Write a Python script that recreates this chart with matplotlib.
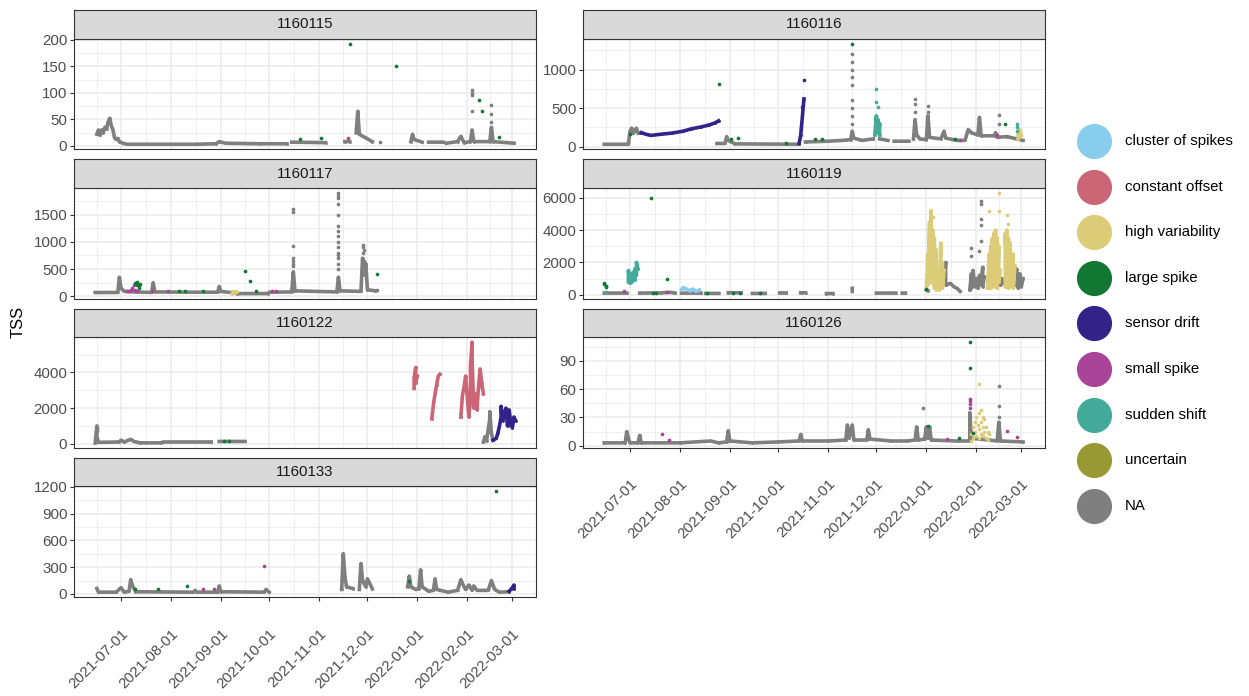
import numpy as np
import pandas as pd
import matplotlib
matplotlib.use("Agg")
import matplotlib.pyplot as plt

plt.rcParams['font.family'] = ['Liberation Sans', 'DejaVu Sans']

# ---- data ----
flag_labels = ["cluster of spikes", "constant offset", "high variability", "large spike",
               "sensor drift", "small spike", "sudden shift", "uncertain", "NA"]
flag_colors = ["#88CCEE", "#CC6677", "#DDCC77", "#117733", "#332288", "#AA4499",
               "#44AA99", "#999933", "#7F7F7F"]

station_ids = ["1160115", "1160116", "1160117", "1160119", "1160122", "1160126", "1160133"]

ytick_115 = [0, 50, 100, 150, 200]
ytick_116 = [0, 500, 1000]
ytick_117 = [0, 500, 1000, 1500]
ytick_119 = [0, 2000, 4000, 6000]
ytick_122 = [0, 2000, 4000]
ytick_126 = [0, 30, 60, 90]
ytick_133 = [0, 300, 600, 900, 1200]

month_ticks = ["2021-07-01", "2021-08-01", "2021-09-01", "2021-10-01", "2021-11-01",
               "2021-12-01", "2022-01-01", "2022-02-01", "2022-03-01"]

# 1160115
s115_na = [("2021-06-16", 22), ("2021-06-17", 30), ("2021-06-18", 20), ("2021-06-19", 30), ("2021-06-20", 25),
           ("2021-06-21", 35), ("2021-06-22", 32), ("2021-06-23", 45), ("2021-06-24", 52), ("2021-06-25", 38),
           ("2021-06-26", 30), ("2021-06-27", 15), ("2021-06-28", 12), ("2021-06-29", 14), ("2021-06-30", 8),
           ("2021-07-02", 5), ("2021-07-05", 3), ("2021-07-25", 3), ("2021-08-15", 3), ("2021-08-29", 4),
           ("2021-08-31", 8), ("2021-09-04", 5), ("2021-09-25", 4), ("2021-10-12", 4), ("2021-10-13", None),
           ("2021-10-15", 7), ("2021-11-05", 6), ("2021-11-06", None),
           ("2021-11-17", 8), ("2021-11-20", 8), ("2021-11-21", None),
           ("2021-11-24", 25), ("2021-11-25", 65), ("2021-11-26", 22), ("2021-11-27", 20), ("2021-11-30", 15),
           ("2021-12-04", 8), ("2021-12-05", None),
           ("2021-12-28", 8), ("2021-12-29", 22), ("2021-12-30", 12), ("2022-01-04", 7), ("2022-01-05", None),
           ("2022-01-08", 7), ("2022-01-17", 7), ("2022-01-18", None),
           ("2022-01-19", 5), ("2022-01-26", 8), ("2022-01-28", 18), ("2022-01-30", 6), ("2022-02-03", 8),
           ("2022-02-04", 30), ("2022-02-05", 8), ("2022-02-15", 8), ("2022-02-16", 35), ("2022-02-17", 8),
           ("2022-03-02", 5)]
s115_na_pts = [("2021-12-09", 7), ("2022-02-04", 65), ("2022-02-04", 95), ("2022-02-04", 100),
               ("2022-02-04", 105), ("2022-02-16", 45), ("2022-02-16", 60), ("2022-02-16", 77)]
s115_large = [("2021-10-20", 13), ("2021-11-02", 15), ("2021-11-20", 193), ("2021-12-19", 150),
              ("2022-02-08", 87), ("2022-02-10", 65), ("2022-02-21", 17)]
s115_small = [("2021-11-19", 14)]

# 1160116
s116_na = [("2021-06-15", 30), ("2021-06-30", 30), ("2021-07-01", 200), ("2021-07-02", 240), ("2021-07-03", 170),
           ("2021-07-05", 240), ("2021-07-06", 170), ("2021-07-08", 180), ("2021-07-09", None),
           ("2021-08-24", 40), ("2021-08-29", 40), ("2021-08-30", 130), ("2021-08-31", 80), ("2021-09-02", 60),
           ("2021-09-04", 35), ("2021-10-14", 30), ("2021-10-15", None),
           ("2021-10-18", 60), ("2021-11-01", 70), ("2021-11-10", 80), ("2021-11-15", 90), ("2021-11-16", 200),
           ("2021-11-17", 110), ("2021-11-22", 80), ("2021-11-29", 100), ("2021-11-30", None),
           ("2021-12-03", 100), ("2021-12-08", 80), ("2021-12-09", None),
           ("2021-12-12", 70), ("2021-12-21", 70), ("2021-12-22", None),
           ("2021-12-24", 100), ("2021-12-25", 350), ("2021-12-26", 150), ("2021-12-28", 100), ("2022-01-01", 90),
           ("2022-01-02", 400), ("2022-01-03", 120), ("2022-01-10", 100), ("2022-01-12", 200), ("2022-01-13", 110),
           ("2022-01-20", 80), ("2022-01-25", 80), ("2022-01-27", 220), ("2022-01-29", 180), ("2022-02-02", 150),
           ("2022-02-03", 380), ("2022-02-04", 140), ("2022-02-12", 140), ("2022-02-13", 180), ("2022-02-14", 120),
           ("2022-02-20", 130), ("2022-02-24", 110), ("2022-03-02", 80)]
s116_na_pts = [("2021-11-16", 1200), ("2021-11-16", 1100), ("2021-11-16", 1000), ("2021-11-16", 900),
               ("2021-11-16", 800), ("2021-11-16", 600), ("2021-11-16", 500), ("2021-11-16", 400),
               ("2021-11-16", 300), ("2021-12-25", 620), ("2021-12-25", 550), ("2021-12-25", 450),
               ("2022-01-02", 530), ("2022-01-02", 450), ("2022-02-15", 410), ("2022-02-15", 300)]
s116_drift = [("2021-07-08", 180), ("2021-07-11", 160), ("2021-07-14", 145), ("2021-07-20", 160), ("2021-07-27", 175),
              ("2021-08-03", 200), ("2021-08-08", 230), ("2021-08-14", 255), ("2021-08-19", 280), ("2021-08-23", 310),
              ("2021-08-25", 335), ("2021-08-26", None),
              ("2021-10-14", 40), ("2021-10-15", 150), ("2021-10-16", 380), ("2021-10-17", 620)]
s116_drift_pts = [("2021-10-17", 860), ("2021-10-16", 520)]
s116_large = [("2021-07-01", 160), ("2021-08-25", 815), ("2021-09-02", 95), ("2021-09-06", 105), ("2021-10-06", 50),
              ("2021-10-24", 95), ("2021-10-28", 95), ("2021-11-16", 1340), ("2022-01-19", 100), ("2022-02-19", 290)]
s116_small = [("2022-01-22", 90), ("2022-02-14", 150)]
s116_shift = [("2021-11-30", 150), ("2021-12-01", 400), ("2021-12-01", 200), ("2021-12-02", 350),
              ("2021-12-02", 180), ("2021-12-03", 300), ("2021-12-03", 150)]
s116_shift_pts = [("2021-12-01", 750), ("2021-12-01", 580), ("2021-12-02", 520),
                  ("2022-02-26", 300), ("2022-02-26", 250), ("2022-02-26", 200)]
s116_hv = [("2022-02-27", 100), ("2022-02-27", 200), ("2022-02-28", 130), ("2022-02-28", 220), ("2022-03-01", 150)]

# 1160117
s117_na = [("2021-06-15", 70), ("2021-06-29", 70), ("2021-06-30", 350), ("2021-07-01", 150), ("2021-07-03", 90),
           ("2021-07-10", 80), ("2021-07-20", 70), ("2021-07-21", 250), ("2021-07-22", 80), ("2021-08-15", 75),
           ("2021-08-30", 75), ("2021-08-31", 180), ("2021-09-01", 90), ("2021-09-07", 70), ("2021-09-11", 50),
           ("2021-09-30", 50), ("2021-10-01", 75), ("2021-10-15", 80), ("2021-10-16", 450), ("2021-10-17", 100),
           ("2021-11-12", 80), ("2021-11-13", 350), ("2021-11-14", 100), ("2021-11-27", 90), ("2021-11-28", 700),
           ("2021-11-29", 400), ("2021-11-30", 600), ("2021-12-01", 120), ("2021-12-06", 100)]
s117_na_pts = [("2021-10-16", 1600), ("2021-10-16", 1550), ("2021-10-16", 930), ("2021-10-16", 700),
               ("2021-10-16", 650), ("2021-10-16", 600), ("2021-10-16", 550),
               ("2021-11-13", 1900), ("2021-11-13", 1850), ("2021-11-13", 1800), ("2021-11-13", 1700),
               ("2021-11-13", 1500), ("2021-11-13", 1300), ("2021-11-13", 1200), ("2021-11-13", 1100),
               ("2021-11-13", 1000), ("2021-11-13", 900), ("2021-11-13", 800), ("2021-11-13", 750),
               ("2021-11-13", 700), ("2021-11-13", 600), ("2021-11-13", 500),
               ("2021-11-28", 950), ("2021-11-28", 900), ("2021-11-28", 800), ("2021-11-29", 850),
               ("2021-11-29", 650), ("2021-11-29", 550), ("2021-12-07", 120)]
s117_small = [("2021-07-05", 90), ("2021-07-06", 100), ("2021-07-07", 120), ("2021-07-08", 150), ("2021-07-09", 200),
              ("2021-07-10", 110), ("2021-07-11", 90), ("2021-07-20", 100), ("2021-07-30", 100),
              ("2021-10-03", 100), ("2021-10-05", 100)]
s117_large = [("2021-07-10", 250), ("2021-07-11", 270), ("2021-07-11", 200), ("2021-07-12", 180), ("2021-07-12", 150),
              ("2021-07-13", 230), ("2021-08-06", 100), ("2021-08-10", 100), ("2021-08-21", 100),
              ("2021-09-16", 460), ("2021-09-19", 285), ("2021-09-23", 100), ("2021-12-07", 410)]
s117_hv = [("2021-09-08", 50), ("2021-09-09", 90), ("2021-09-10", 60), ("2021-09-11", 80)]

# 1160119
s119_na = [("2021-06-15", 100), ("2021-06-29", 100), ("2021-06-30", None),
           ("2021-07-07", 100), ("2021-07-20", 110), ("2021-07-26", 150), ("2021-07-29", 100), ("2021-07-30", None),
           ("2021-08-02", 100), ("2021-08-14", 100), ("2021-08-15", None),
           ("2021-08-17", 80), ("2021-08-25", 80), ("2021-08-26", None),
           ("2021-08-31", 120), ("2021-09-08", 120), ("2021-09-09", None),
           ("2021-09-15", 80), ("2021-09-23", 80), ("2021-09-24", None),
           ("2021-10-02", 110), ("2021-10-06", 110), ("2021-10-07", None),
           ("2021-10-15", 120), ("2021-10-18", 120), ("2021-10-19", None),
           ("2021-10-31", 70), ("2021-11-04", 70), ("2021-11-05", None),
           ("2021-11-16", 400), ("2021-11-16", 200), ("2021-11-17", None),
           ("2021-12-01", 100), ("2021-12-13", 100), ("2021-12-14", None),
           ("2021-12-17", 100), ("2021-12-19", 100), ("2021-12-20", None),
           ("2022-01-01", 300), ("2022-01-02", 250), ("2022-01-03", None),
           ("2022-01-12", 800), ("2022-01-13", 2000), ("2022-01-13", 600), ("2022-01-16", 700), ("2022-01-18", 500),
           ("2022-01-20", 400), ("2022-01-22", 200), ("2022-01-23", None),
           ("2022-01-28", 300), ("2022-01-29", 1300), ("2022-01-29", 400), ("2022-01-30", 1500), ("2022-01-31", 500),
           ("2022-02-01", 1000), ("2022-02-02", 400), ("2022-02-03", 1200), ("2022-02-04", 600), ("2022-02-05", 1700),
           ("2022-02-05", 500), ("2022-02-06", 1100), ("2022-02-07", None),
           ("2022-02-16", 600), ("2022-02-17", 1000), ("2022-02-18", 700), ("2022-02-19", None),
           ("2022-02-25", 600), ("2022-02-26", 1600), ("2022-02-27", 400), ("2022-02-28", 1300), ("2022-03-01", 500),
           ("2022-03-02", 1000)]
s119_na_pts = [("2022-01-29", 2900), ("2022-01-29", 2400), ("2022-02-04", 5800), ("2022-02-04", 5600),
               ("2022-02-04", 4700), ("2022-02-04", 4300), ("2022-02-04", 3300), ("2022-02-03", 2700)]
s119_shift = [("2021-06-30", 800), ("2021-06-30", 1500), ("2021-07-01", 700), ("2021-07-01", 1300), ("2021-07-02", 800),
              ("2021-07-03", 1100), ("2021-07-03", 1400), ("2021-07-04", 900), ("2021-07-04", 1600),
              ("2021-07-05", 1200), ("2021-07-05", 2000), ("2021-07-06", 1600)]
s119_shift_pts = [("2021-06-16", 150)]
s119_large = [("2021-06-15", 750), ("2021-06-15", 650), ("2021-06-16", 550), ("2021-06-16", 450), ("2021-07-14", 5950),
              ("2021-07-15", 120), ("2021-07-17", 130), ("2021-07-24", 990), ("2021-08-18", 100), ("2021-09-03", 130),
              ("2021-09-07", 130), ("2021-09-20", 100), ("2022-01-01", 330)]
s119_small = [("2021-06-27", 230), ("2021-07-24", 150)]
s119_cluster = [("2021-08-02", 300), ("2021-08-03", 450), ("2021-08-05", 350), ("2021-08-07", 250),
                ("2021-08-09", 350), ("2021-08-11", 200), ("2021-08-13", 300)]
s119_hv = [("2022-01-01", 400), ("2022-01-02", 2500), ("2022-01-02", 600), ("2022-01-03", 4500), ("2022-01-03", 800),
           ("2022-01-04", 5200), ("2022-01-04", 1200), ("2022-01-05", 4000), ("2022-01-05", 700), ("2022-01-06", 3500),
           ("2022-01-06", 400), ("2022-01-07", 2800), ("2022-01-07", 300), ("2022-01-08", 1500), ("2022-01-09", 300),
           ("2022-01-10", 3200), ("2022-01-10", 500), ("2022-01-11", 2000), ("2022-01-11", 400), ("2022-01-12", 1500),
           ("2022-01-12", None),
           ("2022-02-08", 400), ("2022-02-09", 2500), ("2022-02-09", 500), ("2022-02-10", 3000), ("2022-02-10", 400),
           ("2022-02-11", 3500), ("2022-02-11", 600), ("2022-02-12", 3800), ("2022-02-12", 500), ("2022-02-13", 4000),
           ("2022-02-13", 700), ("2022-02-14", 3500), ("2022-02-14", 400), ("2022-02-15", 3000), ("2022-02-15", 800),
           ("2022-02-16", 1500), ("2022-02-16", None),
           ("2022-02-19", 500), ("2022-02-19", 3800), ("2022-02-20", 600), ("2022-02-20", 4000), ("2022-02-21", 400),
           ("2022-02-21", 3500), ("2022-02-22", 500), ("2022-02-22", 3200), ("2022-02-23", 600), ("2022-02-24", 2500),
           ("2022-02-24", 400), ("2022-02-25", 1800)]
s119_hv_pts = [("2022-01-03", 5100), ("2022-01-05", 4800), ("2022-02-09", 5200), ("2022-02-15", 6300),
               ("2022-02-15", 5200), ("2022-02-20", 4900), ("2022-02-21", 4400)]

# 1160122
s122_na = [("2021-06-15", 50), ("2021-06-16", 1000), ("2021-06-16", 400), ("2021-06-17", 80), ("2021-06-30", 100),
           ("2021-07-01", 200), ("2021-07-03", 100), ("2021-07-07", 250), ("2021-07-09", 130), ("2021-07-13", 50),
           ("2021-07-26", 50), ("2021-07-27", 100), ("2021-08-26", 100), ("2021-08-27", None),
           ("2021-08-31", 130), ("2021-09-16", 130), ("2021-09-17", None),
           ("2022-02-11", 100), ("2022-02-12", 400), ("2022-02-13", 150), ("2022-02-14", 800), ("2022-02-15", 1400),
           ("2022-02-15", 1800), ("2022-02-16", 600), ("2022-02-17", 200)]
s122_na_pts = [("2021-06-16", 900), ("2021-06-16", 800), ("2021-06-16", 700)]
s122_large = [("2021-09-03", 180), ("2021-09-06", 180)]
s122_offset = [("2021-12-30", 3100), ("2021-12-30", 3700), ("2021-12-31", 4280), ("2021-12-31", 3400),
               ("2022-01-01", 3800), ("2022-01-02", None),
               ("2022-01-10", 1400), ("2022-01-11", 2200), ("2022-01-12", 2800), ("2022-01-13", 3300),
               ("2022-01-14", 3800), ("2022-01-15", 3900), ("2022-01-16", None),
               ("2022-01-28", 1500), ("2022-01-29", 2700), ("2022-01-30", 3200), ("2022-01-31", 3800),
               ("2022-02-01", 2600), ("2022-02-02", 1500), ("2022-02-03", 2600), ("2022-02-03", 4400),
               ("2022-02-04", 5700), ("2022-02-04", 4800), ("2022-02-05", 2000), ("2022-02-06", 2800),
               ("2022-02-07", 1900), ("2022-02-08", 3200), ("2022-02-09", 4200), ("2022-02-10", 3400),
               ("2022-02-11", 2800)]
s122_drift = [("2022-02-17", 200), ("2022-02-19", 300), ("2022-02-20", 600), ("2022-02-21", 1000), ("2022-02-22", 1500),
              ("2022-02-22", 2100), ("2022-02-23", 1300), ("2022-02-24", 1700), ("2022-02-25", 2000),
              ("2022-02-26", 1000), ("2022-02-27", 1900), ("2022-02-28", 1200), ("2022-03-01", 900),
              ("2022-03-02", 1500), ("2022-03-03", 1300)]

# 1160126
s126_na = [("2021-06-15", 3), ("2021-06-28", 3), ("2021-06-29", 15), ("2021-06-30", 8), ("2021-07-01", 3),
           ("2021-07-06", 3), ("2021-07-07", 11), ("2021-07-08", 3), ("2021-08-01", 3), ("2021-08-20", 5),
           ("2021-08-25", 3), ("2021-08-30", 4), ("2021-08-31", 16), ("2021-09-01", 5), ("2021-09-15", 3),
           ("2021-10-01", 4), ("2021-10-14", 5), ("2021-10-15", 12), ("2021-10-16", 5), ("2021-11-01", 5),
           ("2021-11-12", 6), ("2021-11-13", 22), ("2021-11-14", 8), ("2021-11-16", 22), ("2021-11-17", 6),
           ("2021-11-25", 6), ("2021-11-26", 17), ("2021-11-27", 7), ("2021-12-10", 5), ("2021-12-20", 5),
           ("2021-12-25", 6), ("2021-12-26", 20), ("2021-12-27", 6), ("2021-12-31", 7), ("2022-01-01", 20),
           ("2022-01-02", 8), ("2022-01-03", 20), ("2022-01-04", 6), ("2022-01-20", 5), ("2022-01-28", 5),
           ("2022-01-28", 35), ("2022-01-29", 8), ("2022-02-14", 5), ("2022-02-15", 25), ("2022-02-16", 5),
           ("2022-03-02", 4)]
s126_na_pts = [("2021-12-30", 40), ("2022-02-15", 63), ("2022-02-15", 42), ("2022-02-15", 30), ("2022-01-28", 30)]
s126_small = [("2021-07-21", 12.6), ("2021-07-25", 6), ("2022-01-14", 7), ("2022-01-28", 50), ("2022-01-28", 47),
              ("2022-01-28", 44), ("2022-01-28", 40), ("2022-02-20", 16), ("2022-02-26", 9)]
s126_large = [("2022-01-02", 20.6), ("2022-01-21", 8), ("2022-01-28", 110), ("2022-01-28", 83), ("2022-01-30", 14)]
s126_hv = [("2022-01-29", 5), ("2022-01-29", 12), ("2022-01-30", 20), ("2022-01-30", 8), ("2022-01-31", 25),
           ("2022-01-31", 15), ("2022-02-01", 30), ("2022-02-01", 10), ("2022-02-02", 22), ("2022-02-03", 66),
           ("2022-02-03", 35), ("2022-02-03", 18), ("2022-02-03", 8), ("2022-02-04", 38), ("2022-02-04", 25),
           ("2022-02-04", 12), ("2022-02-05", 30), ("2022-02-05", 20), ("2022-02-05", 10), ("2022-02-06", 28),
           ("2022-02-06", 15), ("2022-02-07", 20), ("2022-02-07", 8), ("2022-02-08", 15), ("2022-02-08", 6),
           ("2022-02-09", 12)]

# 1160133
s133_na = [("2021-06-16", 60), ("2021-06-17", 20), ("2021-06-28", 20), ("2021-07-01", 70), ("2021-07-03", 20),
           ("2021-07-06", 30), ("2021-07-07", 160), ("2021-07-08", 100), ("2021-07-10", 25), ("2021-08-15", 20),
           ("2021-08-16", 40), ("2021-08-17", 20), ("2021-08-30", 20), ("2021-08-31", 90), ("2021-09-01", 25),
           ("2021-09-28", 20), ("2021-09-29", 50), ("2021-10-01", 20), ("2021-10-02", None),
           ("2021-11-15", 50), ("2021-11-16", 450), ("2021-11-17", 200), ("2021-11-18", 80), ("2021-11-22", 60),
           ("2021-11-23", None),
           ("2021-11-26", 50), ("2021-11-27", 340), ("2021-11-28", 150), ("2021-11-30", 80), ("2021-12-01", 170),
           ("2021-12-04", 60), ("2021-12-05", None),
           ("2021-12-26", 80), ("2021-12-27", 200), ("2021-12-28", 80), ("2021-12-31", 50), ("2022-01-02", 60),
           ("2022-01-03", 270), ("2022-01-04", 80), ("2022-01-08", 30), ("2022-01-11", 40), ("2022-01-12", 170),
           ("2022-01-13", 50), ("2022-01-20", 20), ("2022-01-26", 40), ("2022-01-28", 160), ("2022-01-30", 80),
           ("2022-01-31", 50), ("2022-02-02", 100), ("2022-02-04", 40), ("2022-02-05", 90), ("2022-02-07", 40),
           ("2022-02-14", 40), ("2022-02-16", 150), ("2022-02-18", 50), ("2022-02-21", 20), ("2022-02-27", 25)]
s133_drift = [("2022-02-27", 30), ("2022-02-28", 50), ("2022-03-01", 70), ("2022-03-02", 100), ("2022-03-02", 60)]
s133_large = [("2021-07-10", 60), ("2021-07-24", 50), ("2021-08-11", 90), ("2021-12-27", 140), ("2022-02-19", 1147)]
s133_small = [("2021-08-21", 50), ("2021-08-28", 50), ("2021-09-28", 317)]

# ---- layers per panel: (kind, flag, data) ----
layers = {
    "1160115": [("line", "NA", s115_na), ("pts", "NA", s115_na_pts),
                ("pts", "large spike", s115_large), ("pts", "small spike", s115_small)],
    "1160116": [("line", "NA", s116_na), ("pts", "NA", s116_na_pts),
                ("line", "sensor drift", s116_drift), ("pts", "sensor drift", s116_drift_pts),
                ("line", "sudden shift", s116_shift), ("pts", "sudden shift", s116_shift_pts),
                ("line", "high variability", s116_hv),
                ("pts", "large spike", s116_large), ("pts", "small spike", s116_small)],
    "1160117": [("line", "NA", s117_na), ("pts", "NA", s117_na_pts),
                ("line", "high variability", s117_hv),
                ("pts", "small spike", s117_small), ("pts", "large spike", s117_large)],
    "1160119": [("line", "NA", s119_na), ("pts", "NA", s119_na_pts),
                ("line", "sudden shift", s119_shift), ("pts", "sudden shift", s119_shift_pts),
                ("line", "cluster of spikes", s119_cluster),
                ("line", "high variability", s119_hv), ("pts", "high variability", s119_hv_pts),
                ("pts", "large spike", s119_large), ("pts", "small spike", s119_small)],
    "1160122": [("line", "NA", s122_na), ("pts", "NA", s122_na_pts),
                ("line", "constant offset", s122_offset), ("line", "sensor drift", s122_drift),
                ("pts", "large spike", s122_large)],
    "1160126": [("line", "NA", s126_na), ("pts", "NA", s126_na_pts),
                ("pts", "high variability", s126_hv),
                ("pts", "small spike", s126_small), ("pts", "large spike", s126_large)],
    "1160133": [("line", "NA", s133_na), ("line", "sensor drift", s133_drift),
                ("pts", "large spike", s133_large), ("pts", "small spike", s133_small)],
}
yticks = {"1160115": ytick_115, "1160116": ytick_116, "1160117": ytick_117, "1160119": ytick_119,
          "1160122": ytick_122, "1160126": ytick_126, "1160133": ytick_133}
colors = dict(zip(flag_labels, flag_colors))


def to_xy(pairs):
    d = pd.to_datetime([p[0] for p in pairs])
    v = np.array([np.nan if p[1] is None else p[1] for p in pairs], dtype=float)
    return d, v


W, H = 1249, 696
fig = plt.figure(figsize=(W / 100, H / 100), dpi=100)


def box(x0, y0, x1, y1):
    return [x0 / W, 1 - y1 / H, (x1 - x0) / W, (y1 - y0) / H]


col_x = [(74.3, 535.7), (583.3, 1044.7)]
row_y = [10, 159.3, 308.6, 457.9]
strip_h, panel_h = 28.5, 110.8
fs = 10.8
edge = "#333333"

majors = pd.to_datetime(month_ticks)
minor_x = [majors[0] - pd.Timedelta(days=15)] + [a + (b - a) / 2 for a, b in zip(majors[:-1], majors[1:])]
xlim = (pd.Timestamp("2021-06-02"), pd.Timestamp("2022-03-15 12:00"))

for i, sid in enumerate(station_ids):
    r, c = divmod(i, 2)
    x0, x1 = col_x[c]
    top = row_y[r]
    ax = fig.add_axes(box(x0, top + strip_h, x1, top + strip_h + panel_h))
    st = fig.add_axes(box(x0, top, x1, top + strip_h))

    lo, hi = np.inf, -np.inf
    for kind, flag, data in layers[sid]:
        d, v = to_xy(data)
        lo, hi = min(lo, np.nanmin(v)), max(hi, np.nanmax(v))
        if kind == "line":
            ax.plot(d, v, color=colors[flag], lw=2.6, marker="o", ms=2, mew=0, zorder=3 if flag == "NA" else 4)
        else:
            ax.scatter(d, v, s=7, color=colors[flag], lw=0, zorder=5)

    yt = yticks[sid]
    step = yt[1] - yt[0]
    ax.set_yticks(yt)
    ax.set_yticklabels([str(t) for t in yt])
    ax.set_yticks([t + step / 2 for t in [yt[0] - step] + yt], minor=True)
    ax.set_xticks(majors)
    ax.set_xticks(minor_x, minor=True)
    ax.set_xlim(*xlim)
    span = hi - lo
    ax.set_ylim(lo - 0.05 * span, hi + 0.05 * span)
    ax.set_axisbelow(True)
    ax.grid(which="major", color="#EBEBEB", lw=1.1)
    ax.grid(which="minor", color="#EBEBEB", lw=0.55)
    ax.tick_params(which="minor", length=0)
    ax.tick_params(axis="y", which="major", length=3, width=0.8, color=edge, labelsize=fs,
                   labelcolor="#4D4D4D", pad=2)
    bottom = (c == 0 and r == 3) or (c == 1 and r == 2)
    if bottom:
        ax.set_xticklabels([m.strftime("%Y-%m-%d") for m in majors], rotation=45, ha="right",
                           va="top", rotation_mode="anchor")
        ax.tick_params(axis="x", which="major", length=3, width=0.8, color=edge, labelsize=fs,
                       labelcolor="#4D4D4D", pad=18)
    else:
        ax.tick_params(axis="x", which="major", bottom=False, labelbottom=False)
    for sp in ax.spines.values():
        sp.set_color(edge)
        sp.set_linewidth(0.8)

    st.set_facecolor("#D9D9D9")
    st.set_xticks([])
    st.set_yticks([])
    for sp in st.spines.values():
        sp.set_color(edge)
        sp.set_linewidth(0.8)
    st.text(0.5, 0.5, sid, ha="center", va="center", fontsize=fs, color="#1A1A1A", transform=st.transAxes)

fig.text(18 / W, 1 - 322 / H, "TSS", rotation=90, ha="center", va="center", fontsize=fs * 1.1)

# legend
lg = fig.add_axes(box(1060, 0, W, H))
lg.set_xlim(1060, W)
lg.set_ylim(H, 0)
lg.axis("off")
for k, (lab, col) in enumerate(zip(flag_labels, flag_colors)):
    yk = 141 + k * 45.6
    lg.scatter([1094], [yk], s=640, color=col, lw=0)
    lg.text(1125, yk, lab, va="center", ha="left", fontsize=fs, color="black")

fig.savefig("out.png", dpi=100)
